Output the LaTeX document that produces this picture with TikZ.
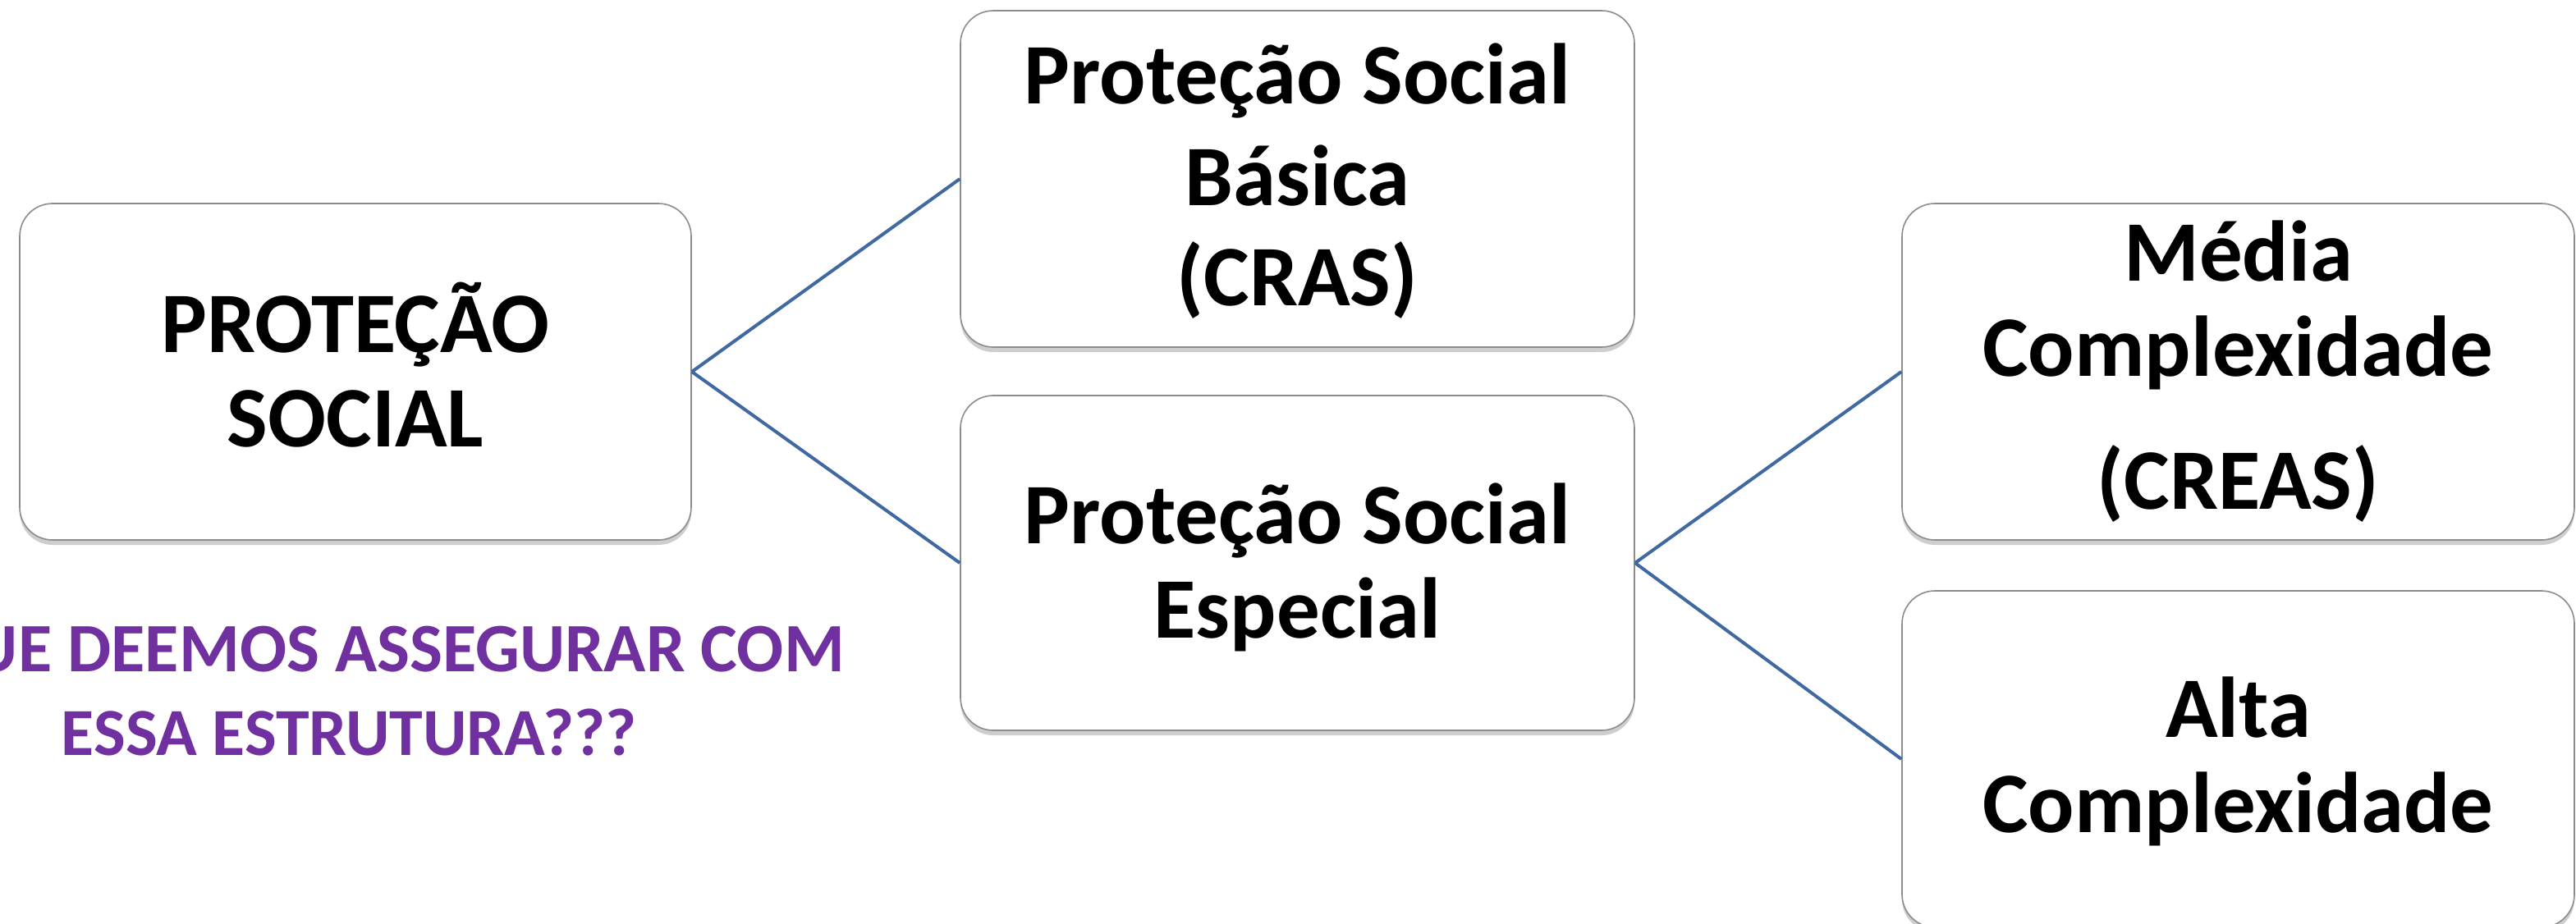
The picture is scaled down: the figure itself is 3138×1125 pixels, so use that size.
\documentclass[tikz,border=0pt]{standalone}
\usepackage{fontspec}
\setmainfont{Carlito}
\usetikzlibrary{shadows}
\definecolor{linkblue}{HTML}{4169A1}
\definecolor{qpurple}{HTML}{7030A0}
\definecolor{boxline}{HTML}{8C8C8C}
\tikzset{
  box/.style={draw=boxline, line width=1.6pt, fill=white, rounded corners=40pt,
    minimum width=818pt, minimum height=410pt, inner sep=0pt,
    drop shadow={shadow xshift=0pt, shadow yshift=-6pt, opacity=0.35, fill=black!55}},
  big/.style={font=\fontsize{105}{115}\selectfont\bfseries, anchor=base, inner sep=0pt},
  question/.style={font=\fontsize{82}{100}\selectfont\bfseries, text=qpurple, inner sep=0pt},
  link/.style={draw=linkblue, line width=4pt},
}
\begin{document}
\begin{tikzpicture}[x=1pt,y=-1pt]
\clip (0,0) rectangle (3138,1125);
\fill[white] (0,0) rectangle (3138,1125);

% boxes
\node[box] (b1) at (433,453) {};
\node[box, minimum width=821pt] (b2) at (1580.5,218) {};
\node[box, minimum width=821pt, minimum height=408pt] (b3) at (1580.5,686) {};
\node[box, minimum width=819pt] (b4) at (2726.5,453) {};
\node[box, minimum width=819pt] (b5) at (2726.5,925) {};

% connectors
\draw[link] (b1.east) -- (b2.west);
\draw[link] (b1.east) -- (b3.west);
\draw[link] (b3.east) -- (b4.west);
\draw[link] (b3.east) -- (b5.west);

% texts
\node[big] (t1a) at (433,429) {PROTEÇÃO};
\node[big] (t1b) at (433,544) {SOCIAL};

\node[big] (t2a) at (1580.5,126) {Proteção Social};
\node[big] (t2b) at (1580.5,250) {Básica};
\node[big] (t2c) at (1580.5,372) {(CRAS)};

\node[big] (t3a) at (1580.5,662) {Proteção Social};
\node[big] (t3b) at (1580.5,777) {Especial};

\node[big] (t4a) at (2726.5,342) {Média};
\node[big] (t4b) at (2726.5,458) {Complexidade};
\node[big] (t4c) at (2726.5,620) {(CREAS)};

\node[big] (t5a) at (2726.5,898) {Alta};
\node[big] (t5b) at (2726.5,1014) {Complexidade};

% question
\node[question, font=\fontsize{84.5}{100}\selectfont\bfseries, anchor=base east] (q1) at (1029,818) {UE DEEMOS ASSEGURAR COM};
\node[question, anchor=base] (q2) at (425,920) {ESSA ESTRUTURA???};
\end{tikzpicture}
\end{document}
